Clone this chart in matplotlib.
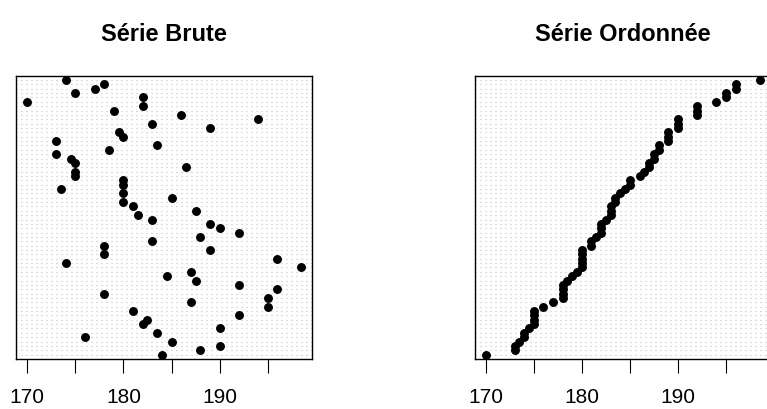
import numpy as np
import matplotlib
matplotlib.use("Agg")
import matplotlib.pyplot as plt

# tailles (cm), dans l'ordre de la série : premier élément en bas du dotchart
tailles = [184, 188, 190, 185, 176, 183.5, 190, 182, 182.5, 192, 181, 195, 187,
           195, 178, 196, 192, 187.5, 184.5, 187, 198.5, 174, 196, 178, 189,
           178, 183, 188, 192, 190, 189, 183, 181.5, 187.5, 181, 180, 185,
           180, 173.5, 180, 180, 175, 175, 186.5, 175, 174.5, 173, 178.5,
           183.5, 173, 180, 179.5, 189, 183, 194, 186, 179, 182, 170, 182,
           175, 177, 178, 174]
titres = ["Série Brute", "Série Ordonnée"]
ticks = [170, 175, 180, 185, 190, 195]
tick_labels = ["170", "", "180", "", "190", ""]

plt.rcParams['font.family'] = ['Liberation Sans', 'DejaVu Sans']

fig = plt.figure(figsize=(7.67, 4.09), dpi=100)
W, H = 767, 409


def dotchart(ax, vals, titre):
    n = len(vals)
    y = np.arange(1, n + 1)
    for yy in y:
        ax.axhline(yy, color='#BDBDBD', lw=0.9, ls=(0, (0.8, 3.2)), zorder=1)
    ax.plot(vals, y, 'o', color='black', ms=5.4, zorder=3)
    ax.set_ylim(0, n + 1)
    ax.set_xlim(min(vals) - 0.04 * (max(vals) - min(vals)),
                max(vals) + 0.04 * (max(vals) - min(vals)))
    ax.set_yticks([])
    ax.set_xticks(ticks)
    ax.set_xticklabels(tick_labels)
    ax.tick_params(axis='x', length=10, width=0.8, pad=11, labelsize=15)
    for s in ax.spines.values():
        s.set_linewidth(1.0)
    ax.set_title(titre, fontweight='bold', fontsize=17, pad=25)


ax1 = fig.add_axes([16.3 / W, 50 / H, 296 / W, 283.3 / H])
dotchart(ax1, tailles, titres[0])

ax2 = fig.add_axes([474.7 / W, 50 / H, 296 / W, 283.3 / H])
dotchart(ax2, sorted(tailles), titres[1])

fig.savefig('out.png', dpi=100)
